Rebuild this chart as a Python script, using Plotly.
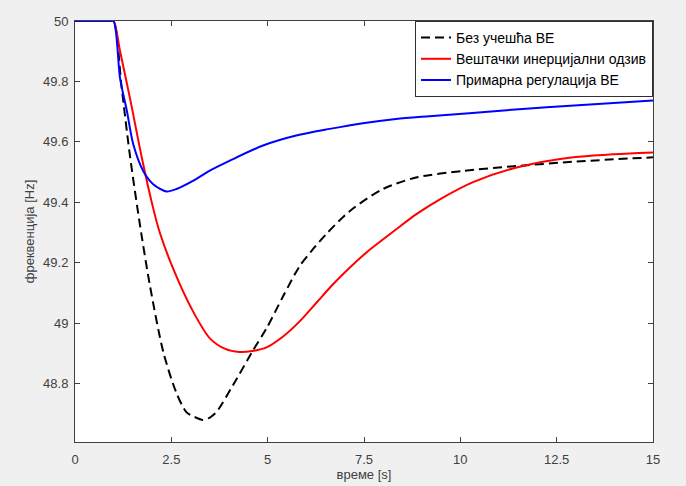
import plotly.graph_objects as go

# Time (s) and frequency (Hz)
t_black = [0, 0.9, 1.0, 1.21, 1.42, 1.68, 1.94, 2.29, 2.63, 2.89, 3.10, 3.32, 3.50, 3.67, 4.10, 4.62,
           4.97, 5.40, 5.83, 6.13, 6.52, 7.12, 7.99, 8.85, 10.06, 11.46, 13.0, 15]
f_black = [50, 50, 50, 49.78, 49.56, 49.33, 49.128, 48.906, 48.77, 48.706, 48.69, 48.68, 48.688, 48.706,
           48.795, 48.91, 48.983, 49.089, 49.189, 49.238, 49.295, 49.37, 49.444, 49.482, 49.504,
           49.52, 49.535, 49.549]

t_red = [0, 0.9, 1.0, 1.17, 1.45, 1.73, 2.03, 2.20, 2.55, 3.06, 3.50, 3.90, 4.27, 4.60, 4.97, 5.40,
         5.83, 6.26, 6.69, 7.12, 7.60, 8.33, 8.85, 9.47, 10.33, 11.46, 12.93, 15]
f_red = [50, 50, 50, 49.90, 49.73, 49.55, 49.38, 49.30, 49.18, 49.04, 48.95, 48.915, 48.905, 48.908,
         48.92, 48.956, 49.006, 49.067, 49.128, 49.183, 49.238, 49.31, 49.36, 49.41, 49.467, 49.515,
         49.549, 49.565]

t_blue = [0, 0.9, 1.0, 1.17, 1.35, 1.51, 1.77, 2.03, 2.37, 2.65, 3.06, 3.50, 4.02, 4.88, 5.74, 6.61,
          7.47, 8.33, 9.20, 10.23, 12.24, 15]
f_blue = [50, 50, 50, 49.81, 49.70, 49.593, 49.504, 49.46, 49.436, 49.445, 49.471, 49.505, 49.538,
          49.588, 49.621, 49.643, 49.662, 49.676, 49.685, 49.695, 49.715, 49.737]

names = ["Без учешћа ВЕ", "Вештачки инерцијални одзив", "Примарна регулација ВЕ"]

x_ticks = [0, 2.5, 5, 7.5, 10, 12.5, 15]
x_tick_text = ["0", "2.5", "5", "7.5", "10", "12.5", "15"]
y_ticks = [48.8, 49, 49.2, 49.4, 49.6, 49.8, 50]
y_tick_text = ["48.8", "49", "49.2", "49.4", "49.6", "49.8", "50"]

font = "Liberation Sans, Arial, sans-serif"

fig = go.Figure()
fig.add_trace(go.Scatter(x=t_black, y=f_black, mode="lines", name=names[0],
                         line=dict(color="black", width=2, dash="9px,5px",
                                   shape="spline", smoothing=0.8)))
fig.add_trace(go.Scatter(x=t_red, y=f_red, mode="lines", name=names[1],
                         line=dict(color="#ff0000", width=2, shape="spline", smoothing=0.8)))
fig.add_trace(go.Scatter(x=t_blue, y=f_blue, mode="lines", name=names[2],
                         line=dict(color="#0000ff", width=2, shape="spline", smoothing=0.8)))

axis_common = dict(showline=True, linecolor="#404040", linewidth=1, mirror="allticks",
                   ticks="inside", ticklen=5, tickcolor="#404040", showgrid=False,
                   zeroline=False, automargin=False,
                   tickfont=dict(family=font, size=13, color="#404040"))

fig.update_layout(
    width=686, height=486,
    paper_bgcolor="#f0f0f0", plot_bgcolor="white",
    margin=dict(l=75, r=33, t=21, b=44),
    font=dict(family=font, size=13, color="#404040"),
    xaxis=dict(range=[0, 15], tickvals=x_ticks, ticktext=x_tick_text, ticklabelstandoff=5,
               title=dict(text="време [s]", standoff=2, font=dict(size=13)), **axis_common),
    yaxis=dict(range=[48.607, 50], tickvals=y_ticks, ticktext=y_tick_text, ticklabelstandoff=3,
               title=dict(text="фреквенција [Hz]", standoff=5, font=dict(size=13)), **axis_common),
    legend=dict(x=1, y=1, xanchor="right", yanchor="top", bgcolor="white",
                bordercolor="#303030", borderwidth=1,
                font=dict(family=font, size=14, color="black"),
                tracegroupgap=0, itemwidth=30),
    showlegend=True,
)

fig.write_html("out.html", config={"displayModeBar": False},
               post_script="document.body.style.margin='0';document.documentElement.style.margin='0';")
